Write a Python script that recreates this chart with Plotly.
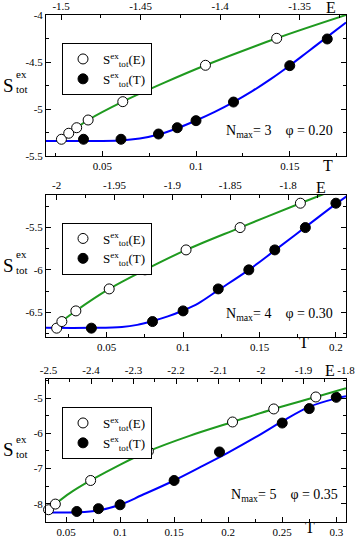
import plotly.graph_objs as go

W, H = 357, 537

# ---------------- panel 1 : Nmax = 3, phi = 0.20 ----------------
T1 = [0.04, 0.06, 0.08, 0.09, 0.10, 0.12, 0.15, 0.17]
ST1 = [-5.322, -5.322, -5.266, -5.199, -5.124, -4.926, -4.539, -4.255]
E1 = [-1.4998, -1.4952, -1.4902, -1.4830, -1.4612, -1.4092, -1.3644]
SE1 = [-5.322, -5.258, -5.199, -5.117, -4.922, -4.535, -4.248]
fitT1_x = [0.02, 0.04, 0.06, 0.07, 0.08, 0.09, 0.10, 0.11, 0.12, 0.13, 0.14, 0.15, 0.16, 0.17, 0.18]
fitT1_y = [-5.34, -5.34, -5.335, -5.315, -5.272, -5.205, -5.122, -5.03, -4.926, -4.81, -4.68, -4.537, -4.385, -4.233, -4.08]
fitE1_x = [-1.4998, -1.4952, -1.4902, -1.4830, -1.4612, -1.435, -1.4092, -1.3644, -1.3208]
fitE1_y = [-5.315, -5.258, -5.199, -5.117, -4.922, -4.72, -4.535, -4.248, -4.0]

# ---------------- panel 2 : Nmax = 4, phi = 0.30 ----------------
T2 = [0.04, 0.08, 0.10, 0.123, 0.143, 0.16, 0.18, 0.20]
ST2 = [-6.689, -6.611, -6.485, -6.225, -6.0, -5.764, -5.5, -5.212]
E2 = [-2.0, -1.9955, -1.9834, -1.9546, -1.9237, -1.8882, -1.8415, -1.7894]
SE2 = [-6.689, -6.611, -6.485, -6.225, -6.0, -5.764, -5.5, -5.212]
fitT2_x = [0.01, 0.04, 0.06, 0.07, 0.08, 0.09, 0.10, 0.11, 0.123, 0.143, 0.16, 0.18, 0.20, 0.207]
fitT2_y = [-6.685, -6.685, -6.675, -6.65, -6.605, -6.55, -6.48, -6.395, -6.24, -6.0, -5.77, -5.495, -5.22, -5.13]
fitE2_x = [-2.0, -1.9955, -1.9834, -1.9546, -1.9237, -1.8882, -1.8415, -1.7894, -1.75]
fitE2_y = [-6.689, -6.611, -6.485, -6.225, -6.0, -5.764, -5.5, -5.212, -5.0]

# ---------------- panel 3 : Nmax = 5, phi = 0.35 ----------------
T3 = [0.06, 0.08, 0.10, 0.15, 0.192, 0.25, 0.275, 0.30]
ST3 = [-8.22, -8.14, -8.03, -7.34, -6.53, -5.71, -5.30, -4.98]
E3 = [-2.5, -2.484, -2.401, -2.265, -2.067, -1.970, -1.871]
SE3 = [-8.17, -8.01, -7.34, -6.51, -5.68, -5.31, -4.97]
fitT3_x = [0.0315, 0.05, 0.06, 0.08, 0.10, 0.12, 0.15, 0.175, 0.20, 0.225, 0.25, 0.275, 0.30, 0.309]
fitT3_y = [-8.25, -8.25, -8.245, -8.19, -8.03, -7.76, -7.34, -6.95, -6.55, -6.12, -5.66, -5.25, -5.01, -4.95]
fitE3_x = [-2.5, -2.484, -2.45, -2.401, -2.33, -2.265, -2.17, -2.067, -1.97, -1.871, -1.8]
fitE3_y = [-8.17, -8.01, -7.70, -7.34, -6.88, -6.51, -6.08, -5.68, -5.31, -4.97, -4.72]

labels = ["N<sub>max</sub>= 3\u00a0\u00a0\u00a0\u00a0φ = 0.20",
          "N<sub>max</sub>= 4\u00a0\u00a0\u00a0\u00a0φ = 0.30",
          "N<sub>max</sub>= 5\u00a0\u00a0\u00a0\u00a0φ = 0.35"]

# tick labels
xt_ticks = [[0.05, 0.1, 0.15], [0.05, 0.1, 0.15, 0.2], [0.05, 0.1, 0.15, 0.2, 0.25, 0.3]]
xt_text = [["0.05", "0.1", "0.15"], ["0.05", "0.1", "0.15", "0.2"],
           ["0.05", "0.1", "0.15", "0.2", "0.25", "0.3"]]
xe_ticks = [[-1.5, -1.45, -1.4, -1.35], [-2.0, -1.95, -1.9, -1.85, -1.8, -1.75],
            [-2.5, -2.4, -2.3, -2.2, -2.1, -2.0, -1.9, -1.8]]
xe_text = [["-1.5", "-1.45", "-1.4", "-1.35"], ["-2", "-1.95", "-1.9", "-1.85", "-1.8", "-1.75"],
           ["-2.5", "-2.4", "-2.3", "-2.2", "-2.1", "-2", "-1.9", "-1.8"]]
y_ticks = [[-5.5, -5.0, -4.5, -4.0], [-6.5, -6.0, -5.5], [-8, -7, -6, -5]]
y_text = [["-5.5", "-5", "-4.5", "-4"], ["-6.5", "-6", "-5.5"], ["-8", "-7", "-6", "-5"]]

# axis ranges
xt_range = [[0.02, 0.18], [0.0103, 0.2066], [0.0315, 0.309]]
xe_range = [[-1.5095, -1.3208], [-2.0092, -1.75], [-2.506, -1.8]]
y_range = [[-5.5, -4.0], [-6.79, -5.109], [-8.51, -4.46]]
minor_t = [0.025, 0.025, 0.025]
minor_e = [0.025, 0.025, 0.05]
minor_y = [0.25, 0.25, 0.5]

# pixel frames (top, bottom) of each panel
frames = [(15, 156), (194.5, 336.7), (379, 521.7)]
left_px, right_px = 46, 346

FONT = "Liberation Serif"
green = "#1f9a1f"
blue = "#0000ff"

panels = [
    (T1, ST1, E1, SE1, fitT1_x, fitT1_y, fitE1_x, fitE1_y),
    (T2, ST2, E2, SE2, fitT2_x, fitT2_y, fitE2_x, fitE2_y),
    (T3, ST3, E3, SE3, fitT3_x, fitT3_y, fitE3_x, fitE3_y),
]

def px(x):
    return x / W

def py(y):
    return 1 - y / H

data = []
layout = dict(template="none", width=W, height=H, margin=dict(l=0, r=0, t=0, b=0, pad=0),
              paper_bgcolor="white", plot_bgcolor="white",
              font=dict(family=FONT, size=11, color="black"), showlegend=True)
annotations = []

for i, (T, ST, E, SE, ftx, fty, fex, fey) in enumerate(panels):
    xb = "x%d" % (2 * i + 1)
    xt = "x%d" % (2 * i + 2)
    yy = "y%d" % (i + 1)
    leg = "legend" if i == 0 else "legend%d" % (i + 1)

    data.append(go.Scatter(x=fex, y=fey, xaxis=xt, yaxis=yy, mode="lines", line=dict(color=green, width=2, shape="spline"), showlegend=False, hoverinfo="skip"))
    data.append(go.Scatter(x=ftx, y=fty, xaxis=xb, yaxis=yy, mode="lines", line=dict(color=blue, width=2, shape="spline"), showlegend=False, hoverinfo="skip"))
    data.append(go.Scatter(x=E, y=SE, xaxis=xt, yaxis=yy, mode="markers", name="S<sup>ex</sup><sub>tot</sub>(E)", legend=leg,
                           marker=dict(symbol="circle", size=10, color="white", line=dict(color="black", width=1)), cliponaxis=False))
    data.append(go.Scatter(x=T, y=ST, xaxis=xb, yaxis=yy, mode="markers", name="S<sup>ex</sup><sub>tot</sub>(T)", legend=leg,
                           marker=dict(symbol="circle", size=10, color="black", line=dict(color="black", width=1)), cliponaxis=False))

    top, bot = frames[i]
    ax_common = dict(showline=True, linecolor="black", linewidth=1, ticks="inside", ticklen=5, tickwidth=1,
                     tickcolor="black", showgrid=False, zeroline=False, automargin=False,
                     tickfont=dict(family=FONT, size=11))
    layout["xaxis%d" % (2 * i + 1)] = dict(ax_common, domain=[px(left_px), px(right_px)], anchor=yy, side="bottom",
                                           range=xt_range[i], tickmode="array", tickvals=xt_ticks[i], ticktext=xt_text[i],
                                           minor=dict(ticks="inside", ticklen=3, tickcolor="black", dtick=minor_t[i], tick0=0))
    layout["xaxis%d" % (2 * i + 2)] = dict(ax_common, overlaying=xb, anchor=yy, side="top",
                                           range=xe_range[i], tickmode="array", tickvals=xe_ticks[i], ticktext=xe_text[i],
                                           minor=dict(ticks="inside", ticklen=3, tickcolor="black", dtick=minor_e[i], tick0=0))
    layout["yaxis%d" % (i + 1)] = dict(ax_common, domain=[py(bot), py(top)], anchor=xb, mirror="ticks",
                                       range=y_range[i], tickmode="array", tickvals=y_ticks[i], ticktext=y_text[i],
                                       minor=dict(ticks="inside", ticklen=3, tickcolor="black", dtick=minor_y[i], tick0=0))
    layout[leg] = dict(x=px(62), y=py(top + 28), xanchor="left", yanchor="top", bgcolor="white",
                       bordercolor="black", borderwidth=1, font=dict(family=FONT, size=13), tracegroupgap=0,
                       itemwidth=30)

    # y title: S with stacked ex / tot
    cy = (top + bot) / 2 - 0.5
    annotations.append(dict(text="S", x=px(8), y=py(cy), xref="paper", yref="paper", showarrow=False,
                            font=dict(family=FONT, size=19), xanchor="center", yanchor="middle"))
    annotations.append(dict(text="ex", x=px(14), y=py(cy - 11), xref="paper", yref="paper", showarrow=False,
                            font=dict(family=FONT, size=11), xanchor="left", yanchor="middle"))
    annotations.append(dict(text="tot", x=px(13.5), y=py(cy + 4.5), xref="paper", yref="paper", showarrow=False,
                            font=dict(family=FONT, size=11), xanchor="left", yanchor="middle"))
    # Nmax / phi label
    annotations.append(dict(text=labels[i], x=px(224 if i < 2 else 229), y=py(top + (116 if i != 1 else 120)), xref="paper", yref="paper",
                            showarrow=False, font=dict(family=FONT, size=14), xanchor="left", yanchor="middle"))

# axis name letters E / T
eT_pos = [((331, 8), (328, 165)), ((321, 187.5), (304, 342)), ((330, 370), (310, 527))]
for (ex, ey), (tx, ty) in eT_pos:
    annotations.append(dict(text="E", x=px(ex), y=py(ey), xref="paper", yref="paper", showarrow=False,
                            font=dict(family=FONT, size=16), xanchor="center", yanchor="middle"))
    annotations.append(dict(text="T", x=px(tx), y=py(ty), xref="paper", yref="paper", showarrow=False,
                            font=dict(family=FONT, size=16), xanchor="center", yanchor="middle"))

layout["annotations"] = annotations

fig = go.Figure(data=data, layout=go.Layout(layout))
# the page body has a default 8px margin; remove it so the figure sits at the window corner
fig.write_html("out.html", config={"displayModeBar": False},
               post_script="document.body.style.margin='0';")
